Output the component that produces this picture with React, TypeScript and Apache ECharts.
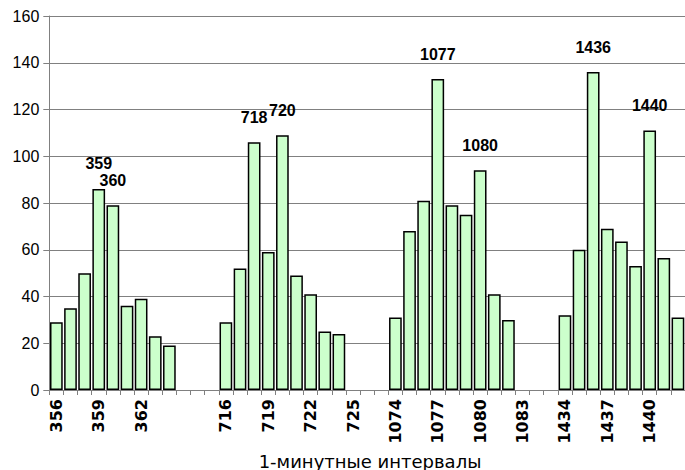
import React, { useEffect, useRef } from "react";
import * as echarts from "echarts";

const categories: string[] = [
  "356", "357", "358", "359", "360", "361", "362", "363", "364",
  "", "", "",
  "716", "717", "718", "719", "720", "721", "722", "723", "724",
  "725", "", "",
  "1074", "1075", "1076", "1077", "1078", "1079", "1080", "1081", "1082",
  "1083", "", "",
  "1434", "1435", "1436", "1437", "1438", "1439", "1440", "1441", "1442",
];

const counts: (number | null)[] = [
  29, 35, 50, 86, 79, 36, 39, 23, 19,
  null, null, null,
  29, 52, 106, 59, 109, 49, 41, 25, 24,
  null, null, null,
  31, 68, 81, 133, 79, 75, 94, 41, 30,
  null, null, null,
  32, 60, 136, 69, 63.5, 53, 111, 56.5, 31,
];

const peakLabels: string[] = ["359", "360", "718", "720", "1077", "1080", "1436", "1440"];

const yTicks = { min: 0, max: 160, interval: 20 };

const axisTitle = "1-минутные интервалы";

export default function App() {
  const ref = useRef<HTMLDivElement>(null);

  useEffect(() => {
    if (!ref.current) return;
    const chart = echarts.init(ref.current, null, { renderer: "svg" });

    const data = counts.map((v, i) => {
      const name = categories[i];
      const item: any = { value: v === null ? "-" : v };
      if (peakLabels.includes(name)) {
        item.label = {
          show: true,
          position: "top",
          distance: 17,
          formatter: "{b}",
          fontFamily: "Liberation Sans Narrow, Liberation Sans, Arial",
          fontSize: 16,
          fontWeight: "bold",
          color: "#000",
        };
      }
      return item;
    });

    chart.setOption({
      animation: false,
      backgroundColor: "#fff",
      grid: { left: 49.3, right: -8.3, top: 16, bottom: 80, containLabel: false },
      xAxis: {
        type: "category",
        data: categories,
        boundaryGap: true,
        axisLine: { show: true, lineStyle: { color: "#808080", width: 1 } },
        axisTick: { show: true, interval: 0, length: 5, alignWithLabel: false, lineStyle: { color: "#808080" } },
        axisLabel: {
          interval: 2,
          rotate: 90,
          margin: 9,
          color: "#000",
          fontFamily: "DejaVu Sans",
          fontWeight: "bold",
          fontSize: 16,
          padding: [6, 0, 0, 0],
        },
        splitLine: { show: false },
      },
      yAxis: {
        type: "value",
        min: yTicks.min,
        max: yTicks.max,
        interval: yTicks.interval,
        axisLine: { show: true, lineStyle: { color: "#808080", width: 1 } },
        axisTick: { show: true, length: 6, lineStyle: { color: "#808080" } },
        axisLabel: {
          margin: 10,
          color: "#000",
          fontFamily: "Liberation Sans, Arial",
          fontSize: 16,
        },
        splitLine: { show: true, lineStyle: { color: "#808080", width: 1 } },
      },
      series: [
        {
          type: "bar",
          data,
          barCategoryGap: "10%",
          itemStyle: { color: "#CCFFCC", borderColor: "#000", borderWidth: 1.5 },
          label: { show: false },
        },
      ],
      graphic: [
        {
          type: "text",
          x: 370,
          y: 461,
          style: {
            text: axisTitle,
            fontFamily: "DejaVu Sans",
            fontSize: 18,
            fill: "#000",
            align: "center",
            verticalAlign: "middle",
          },
        },
      ],
    });

    return () => chart.dispose();
  }, []);

  return (
    <div style={{ position: "fixed", left: 0, top: 0, width: 685, height: 470, overflow: "hidden", background: "#fff" }}>
      <div ref={ref} style={{ width: 685, height: 470 }} />
    </div>
  );
}
